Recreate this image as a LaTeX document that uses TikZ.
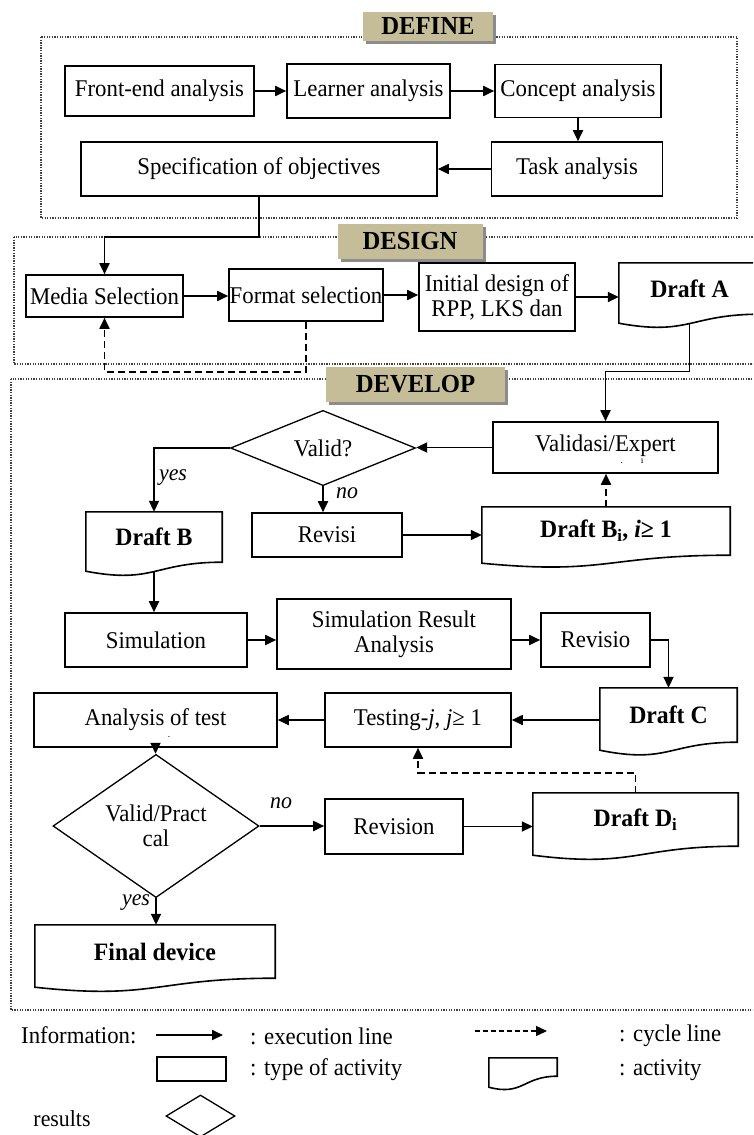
\documentclass[tikz,border=0pt]{standalone}
\usepackage{fontspec}
\setmainfont{Liberation Serif}[FakeStretch=0.95]
\usetikzlibrary{arrows.meta,shapes.geometric,calc,shadows}
\definecolor{phasetan}{RGB}{197,189,151}
\newcommand\docshape[5]{%
  \draw[boxline] (#1.north west) -- (#1.north east) -- (#1.south east)
    .. controls (#1.south) and ($(#1.south)+(0,#5)$) .. coordinate[pos=#3] (#2) ($(#1.south west)+(0,#4)$) -- cycle;}
\begin{document}
\begin{tikzpicture}[x=1pt,y=-1pt,
  every node/.style={font=\fontsize{24}{25}\selectfont},
  boxline/.style={line width=1.6pt, line join=miter},
  box/.style={draw, boxline, rectangle, inner sep=0pt, align=center},
  doc/.style={rectangle, inner sep=0pt, align=center, font=\fontsize{25}{26}\selectfont\bfseries},
  dia/.style={draw, diamond, inner sep=0pt, line width=1.3pt, align=center},
  arr/.style={line width=1.8pt, -{Triangle[length=11pt,width=10pt]}},
  cyc/.style={arr, dash pattern=on 7pt off 4pt},
  frame/.style={line width=1.3pt, dash pattern=on 1.3pt off 1.3pt, black!75},
  phase/.style={fill=phasetan, inner sep=0pt, font=\fontsize{26}{27}\selectfont\bfseries,
    drop shadow={shadow xshift=3pt, shadow yshift=-3pt, opacity=1, fill=black!45}},
  lbl/.style={font=\fontsize{23}{24}\selectfont\itshape, inner sep=0pt},
  leg/.style={font=\fontsize{24}{25}\selectfont, inner sep=0pt, anchor=west}]
\useasboundingbox (0,0) rectangle (753,1135);
\clip (0,0) rectangle (753,1135);

% frames
\draw[frame] (41,37) rectangle (737,218);
\draw[frame] (14,237) rectangle (775,364);
\draw[frame] (11,379) rectangle (775,1010);

% phase labels
\node[phase, minimum width=130pt, minimum height=29pt] (pdefine) at (428,26.5) {DEFINE};
\node[phase, minimum width=145pt, minimum height=35pt] (pdesign) at (410,241.5) {DESIGN};
\node[phase, minimum width=179pt, minimum height=35pt] (pdevelop) at (415.5,384.5) {DEVELOP};

% DEFINE
\node[box, minimum width=189pt, minimum height=50pt] (fe) at (159.5,91) {Front-end analysis};
\node[box, minimum width=163pt, minimum height=54pt] (la) at (368.5,91) {Learner analysis};
\node[box, minimum width=166pt, minimum height=53pt] (ca) at (578,91) {Concept analysis};
\node[box, minimum width=171pt, minimum height=54pt] (ta) at (577,169) {Task analysis};
\node[box, minimum width=356pt, minimum height=54pt] (so) at (259,169) {Specification of objectives};

% DESIGN
\node[box, minimum width=157pt, minimum height=42pt] (ms) at (104.5,296) {Media Selection};
\node[box, minimum width=154pt, minimum height=52pt] (fs) at (306,295) {Format selection};
\node[box, minimum width=156pt, minimum height=68pt] (id) at (497,297) {Initial design of\\RPP, LKS dan};
\node[doc, minimum width=141pt, minimum height=51pt] (dA) at (689.5,288.5) {Draft A};
\docshape{dA}{dAb}{0.5}{9}{22}

% DEVELOP
\node[box, minimum width=225pt, minimum height=51pt] (va) at (605.5,447.5) {\raisebox{8pt}{Validasi/Expert}};
\node[inner sep=0pt, font=\fontsize{10}{10}\selectfont] (vafrag) at (632,461) {.\hspace{18pt}ı};
\node[dia, minimum width=185pt, minimum height=70pt] (vd) at (323,448) {Valid?};
\node[doc, minimum width=136pt, minimum height=50pt] (dB) at (154,537) {Draft B};
\docshape{dB}{dBb}{0.5}{9}{22}
\node[box, minimum width=150pt, minimum height=44pt] (rv) at (327,535) {Revisi};
\node[doc, minimum width=248pt, minimum height=48pt] (dBi) at (606,531) {Draft B\textsubscript{i}, \textit{i}≥ 1};
\docshape{dBi}{dBib}{0.5}{8}{20}

\node[box, minimum width=182pt, minimum height=54pt] (sim) at (156,640) {Simulation};
\node[box, minimum width=234pt, minimum height=70pt] (sra) at (394,634) {Simulation Result\\Analysis};
\node[box, minimum width=109pt, minimum height=54pt] (rvo) at (595.5,640) {Revisio};
\node[doc, minimum width=137pt, minimum height=54pt] (dC) at (668.5,715) {Draft C};
\docshape{dC}{dCb}{0.5}{8}{22}
\node[box, minimum width=186pt, minimum height=54pt] (te) at (418,720) {Testing-\textit{j}, \textit{j}≥ 1};
\node[box, minimum width=243pt, minimum height=54pt] (aot) at (155.5,720) {Analysis of test};
\node[inner sep=0pt, font=\fontsize{10}{10}\selectfont] (aotdot) at (169,737) {.};

\node[dia, minimum width=206pt, minimum height=98pt] (vp) at (156,826) {Valid/Pract\\cal};
\node[box, minimum width=138pt, minimum height=55pt] (rn) at (394,826.5) {Revision};
\node[doc, minimum width=205pt, minimum height=53pt] (dDi) at (635.5,819.5) {Draft D\textsubscript{i}};
\docshape{dDi}{dDib}{0.5}{9}{22}
\node[doc, minimum width=240pt, minimum height=53pt] (fd) at (155,951.5) {Final device};
\docshape{fd}{fdb}{0.5}{9}{22}

% connectors DEFINE
\draw[arr] (fe.east) -- (fe.east -| la.west);
\draw[arr] (la.east) -- (la.east -| ca.west);
\draw[arr] (ca.south) -- (ca.south |- ta.north);
\draw[arr] (ta.west) -- (ta.west -| so.east);
\draw[arr] (so.south) -- ++(0,40) -| (ms.north);
% DESIGN
\draw[arr] (ms.east) -- (ms.east -| fs.west);
\draw[arr] (fs.east) -- (fs.east -| id.west);
\draw[arr] (id.east) -- (id.east -| dA.west);
\draw[cyc] (fs.south) -- ++(0,50) -| (ms.south);
\draw[arr] (dAb) -- ++(0,48) -| (va.north);
% DEVELOP
\draw[arr] (va.west) -- (va.west -| vd.east);
\draw[arr] (vd.west) -| (dB.north);
\draw[arr] (vd.south) -- (vd.south |- rv.north);
\draw[arr] (rv.east) -- (rv.east -| dBi.west);
\draw[cyc] (dBi.north) -- (dBi.north |- va.south);
\draw[arr] (dBb) -- (dBb |- sim.north);
\draw[arr] (sim.east) -- (sim.east -| sra.west);
\draw[arr] (sra.east |- rvo.west) -- (rvo.west);
\draw[arr] (rvo.east) -| (dC.north);
\draw[arr] (te.east -| dC.west) -- (te.east);
\draw[arr] (te.west) -- (te.west -| aot.east);
\draw[arr] (aot.south) -- (aot.south |- vp.north);
\draw[arr] (vp.east) -- (vp.east -| rn.west);
\draw[arr] (rn.east) -- (rn.east -| dDi.west);
\draw[cyc] (dDi.north) -- ++(0,-20) -| (te.south);
\draw[arr] (vp.south) -- (vp.south |- fd.north);

% branch labels
\node[lbl] (yes1) at (173,478) {yes};
\node[lbl] (no1) at (347,493) {no};
\node[lbl] (no2) at (281,803) {no};
\node[lbl] (yes2) at (136,903) {yes};

% legend
\node[leg] (linfo) at (21,1035) {Information:};
\coordinate (l1s) at (156,1035);
\coordinate (l1e) at (223,1035);
\draw[arr] (l1s) -- (l1e);
\node[leg] (lexec) at (250,1036) {: execution line};
\coordinate (l2s) at (475,1031);
\coordinate (l2e) at (547,1031);
\draw[arr, line width=1.4pt, dash pattern=on 5pt off 3pt] (l2s) -- (l2e);
\node[leg] (lcyc) at (619,1036) {: cycle line};
\node[box, line width=1.4pt, minimum width=69pt, minimum height=24pt] (lrect) at (191.5,1069) {};
\node[leg] (ltype) at (250,1070) {: type of activity};
\node[doc, minimum width=68pt, minimum height=18pt] (ldoc) at (523,1067) {};
\docshape{ldoc}{ldocb}{0.5}{11}{20}
\node[leg] (lact) at (619,1070) {: activity};
\node[dia, minimum width=69pt, minimum height=42pt] (ldia) at (200.5,1116) {};
\node[font=\fontsize{23}{24}\selectfont, inner sep=0pt] (lres) at (62,1119) {results};
\end{tikzpicture}
\end{document}
